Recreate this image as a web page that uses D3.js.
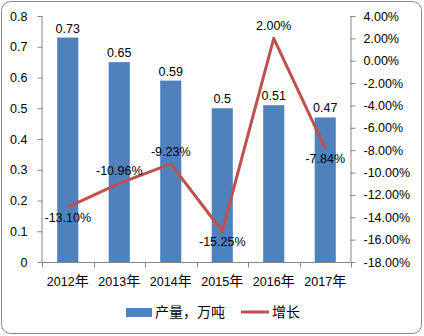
<!DOCTYPE html>
<html>
<head>
<meta charset="utf-8">
<script src="https://cdn.jsdelivr.net/npm/d3@7"></script>
<style>
  html, body { margin: 0; padding: 0; background: #fff; }
  svg text { font-family: "Liberation Sans", "Noto Sans CJK SC", sans-serif; font-size: 12.5px; fill: #000; }
  svg text tspan.cjk { font-family: "Noto Sans CJK SC", sans-serif; font-size: 14px; }
</style>
</head>
<body>
<svg id="chart" width="424" height="336"></svg>
<script>
// Annual output (10k tonnes) and year-on-year growth
const years = ["2012年", "2013年", "2014年", "2015年", "2016年", "2017年"];
const output = [0.73, 0.65, 0.59, 0.5, 0.51, 0.47];
const growth = [-13.10, -10.96, -9.23, -15.25, 2.00, -7.84];
const leftTicks = [0, 0.1, 0.2, 0.3, 0.4, 0.5, 0.6, 0.7, 0.8];
const rightTicks = [4, 2, 0, -2, -4, -6, -8, -10, -12, -14, -16, -18];
// label placement for the growth line: above or below each point
const growthLabelPos = ["below", "above", "above", "below", "above", "below"];
const seriesNames = ["产量，万吨", "增长"];

const svg = d3.select("#chart");
const barColor = "#4F81BD", lineColor = "#C0504D", axisColor = "#868686";
const pct = d => d.toFixed(2) + "%";

// outer frame
svg.append("rect").attr("x", 1.5).attr("y", 1.5).attr("width", 420).attr("height", 332)
  .attr("rx", 9).attr("fill", "#fff").attr("stroke", "#8c8c8c").attr("stroke-width", 1);

const plot = { left: 42, right: 351, top: 16, bottom: 262 };

const x = d3.scaleBand().domain(years).range([plot.left, plot.right]).paddingInner(0.59).paddingOuter(0.295);
const xOuter = d3.scaleBand().domain(years).range([plot.left, plot.right]);
const yL = d3.scaleLinear().domain([0, 0.8]).range([plot.bottom, plot.top]);
const yR = d3.scaleLinear().domain([-18, 4]).range([plot.bottom, plot.top]);

// bars
svg.append("g").selectAll("rect").data(output).join("rect")
  .attr("x", (d, i) => x(years[i]))
  .attr("y", d => yL(d))
  .attr("width", x.bandwidth())
  .attr("height", d => yL(0) - yL(d))
  .attr("fill", barColor);

// left axis
const gL = svg.append("g").attr("transform", `translate(${plot.left + 0.5},0)`)
  .call(d3.axisLeft(yL).tickValues(leftTicks).tickSize(5).tickPadding(10).tickFormat(d => d === 0 ? "0" : d.toFixed(1)));
// right axis
const gR = svg.append("g").attr("transform", `translate(${plot.right - 0.5},0)`)
  .call(d3.axisRight(yR).tickValues(rightTicks).tickSize(5).tickPadding(8).tickFormat(pct));
// bottom axis with ticks at category boundaries
const gB = svg.append("g").attr("transform", `translate(0,${plot.bottom + 0.5})`)
  .call(d3.axisBottom(xOuter).tickSize(0).tickPadding(16).tickFormat(""));
gB.selectAll(".tick text").attr("dy", "0.6em").each(function (d) {
  const t = d3.select(this);
  t.append("tspan").text(d.replace("年", ""));
  t.append("tspan").attr("class", "cjk").text("年");
});
const bounds = years.map(d => xOuter(d)).concat([plot.right]);
gB.selectAll("line.bound").data(bounds).join("line").attr("class", "bound")
  .attr("x1", d => Math.round(d) + 0.5).attr("x2", d => Math.round(d) + 0.5)
  .attr("y1", 0).attr("y2", 5).attr("stroke", axisColor);

[gL, gR, gB].forEach(g => {
  g.select(".domain").attr("stroke", axisColor);
  g.selectAll(".tick line").attr("stroke", axisColor);
  g.selectAll(".tick text").style("font-size", null).attr("font-size", null).attr("fill", "#000");
});
gL.select(".domain").attr("d", `M-0.5,${plot.top}V${plot.bottom}`);
gR.select(".domain").attr("d", `M0.5,${plot.top}V${plot.bottom}`);
gB.select(".domain").attr("d", `M${plot.left},0H${plot.right}`);
svg.selectAll(".tick text").attr("font-family", null);

// bar value labels
svg.append("g").selectAll("text").data(output).join("text")
  .attr("x", (d, i) => x(years[i]) + x.bandwidth() / 2)
  .attr("y", d => yL(d) - 5)
  .attr("text-anchor", "middle")
  .text(d => String(d));

// growth line
const cx = i => xOuter(years[i]) + xOuter.bandwidth() / 2;
const line = d3.line().x((d, i) => cx(i)).y(d => yR(d));
svg.append("path").datum(growth).attr("d", line)
  .attr("fill", "none").attr("stroke", lineColor).attr("stroke-width", 3).attr("stroke-linejoin", "round");

// growth labels
svg.append("g").selectAll("text").data(growth).join("text")
  .attr("x", (d, i) => cx(i))
  .attr("y", (d, i) => growthLabelPos[i] === "above" ? yR(d) - 8 : yR(d) + 15)
  .attr("text-anchor", "middle")
  .text(pct);

// legend
const lg = svg.append("g");
lg.append("rect").attr("x", 126).attr("y", 308).attr("width", 26).attr("height", 9).attr("fill", barColor);
lg.append("text").attr("x", 155).attr("y", 317).append("tspan").attr("class", "cjk").text(seriesNames[0]);
lg.append("line").attr("x1", 241).attr("x2", 269).attr("y1", 312).attr("y2", 312)
  .attr("stroke", lineColor).attr("stroke-width", 3);
lg.append("text").attr("x", 272).attr("y", 317).append("tspan").attr("class", "cjk").text(seriesNames[1]);
</script>
</body>
</html>
